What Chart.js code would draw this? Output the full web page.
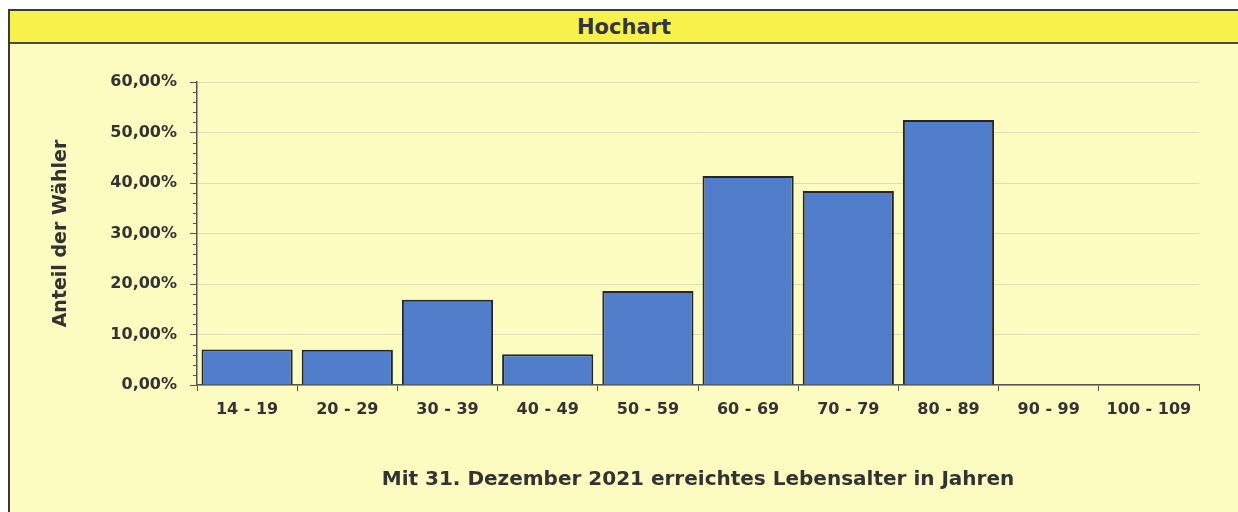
<!DOCTYPE html>
<html>
<head>
<meta charset="utf-8">
<script src="https://cdn.jsdelivr.net/npm/chart.js@4/dist/chart.umd.min.js"></script>
<style>
    body { margin: 0; background: #fff; width: 1238px; height: 512px; overflow: hidden; }
    #panel {
        position: absolute; left: 8px; top: 9px; width: 1230px; height: 503px;
        border-left: 2px solid #3a3a3a; border-top: 2px solid #3a3a3a;
        background: #fcfbc0; box-sizing: border-box;
    }
    #title {
        font: bold 21px "DejaVu Sans", sans-serif; color: #353540;
        height: 31px; line-height: 32px; overflow: hidden; background: #f7f24b;
        border-bottom: 2px solid #4a4a40; text-align: center;
    }
</style>
</head>
<body>
<div id="panel">
    <div id="title">Hochart</div>
    <canvas id="myChart" width="1228" height="468"></canvas>
</div>
<script>
// age groups and share of voters (%)
let ageGroups = ["14 - 19", "20 - 29", "30 - 39", "40 - 49", "50 - 59", "60 - 69", "70 - 79", "80 - 89", "90 - 99", "100 - 109"];
let shares = [7.05, 7.0, 16.9, 6.1, 18.6, 41.4, 38.4, 52.5, 0, 0];
let yTickLabels = ["0,00%", "10,00%", "20,00%", "30,00%", "40,00%", "50,00%", "60,00%"];

let yTitle = "Anteil der Wähler";
let xTitle = "Mit 31. Dezember 2021 erreichtes Lebensalter in Jahren";

Chart.defaults.font.family = '"DejaVu Sans", sans-serif';
Chart.defaults.font.weight = 'bold';
Chart.defaults.color = '#333';

// small ticks every 2% on the y axis
let minorTicks = {
    id: 'minorTicks',
    afterDraw(chart) {
        let y = chart.scales.y;
        let ctx = chart.ctx;
        ctx.save();
        ctx.strokeStyle = '#555';
        ctx.lineWidth = 1;
        for (let v = 0; v <= 60; v += 2) {
            if (v % 10 === 0) continue;
            let py = Math.round(y.getPixelForValue(v)) + 0.5;
            ctx.beginPath();
            ctx.moveTo(y.right - 4, py);
            ctx.lineTo(y.right, py);
            ctx.stroke();
        }
        ctx.restore();
    }
};

let ctx = document.getElementById('myChart').getContext('2d');
let chart = new Chart(ctx, {
    type: 'bar',
    data: {
        labels: ageGroups,
        datasets: [{
            data: shares,
            backgroundColor: '#517ecb',
            borderColor: '#262626',
            borderWidth: 2,
            borderSkipped: 'bottom',
            categoryPercentage: 1,
            barPercentage: 0.91
        }]
    },
    options: {
        responsive: false,
        animation: false,
        layout: { padding: { left: 28, right: 39, top: 38, bottom: 0 } },
        plugins: { legend: { display: false }, tooltip: { enabled: false } },
        scales: {
            x: {
                afterFit: (s) => { s.height = 127; },
                grid: { offset: true, drawOnChartArea: false, tickLength: 6, tickColor: '#555' },
                border: { color: '#555', width: 1.5 },
                ticks: { font: { size: 16 }, padding: 9, maxRotation: 0 },
                title: { display: true, text: xTitle, font: { size: 20 }, padding: { top: 0, bottom: 20 } }
            },
            y: {
                min: 0,
                max: 60,
                afterFit: (s) => { s.width = 159; },
                grid: { color: 'rgba(200,200,170,0.55)', tickLength: 7, tickColor: '#555' },
                border: { color: '#555', width: 1.5, dash: [] },
                ticks: {
                    stepSize: 10,
                    padding: 13,
                    font: { size: 16 },
                    callback: (v, i) => yTickLabels[i]
                },
                title: { display: true, text: yTitle, font: { size: 19 }, padding: { top: 12, bottom: 0 } }
            }
        }
    },
    plugins: [minorTicks]
});
</script>
</body>
</html>
